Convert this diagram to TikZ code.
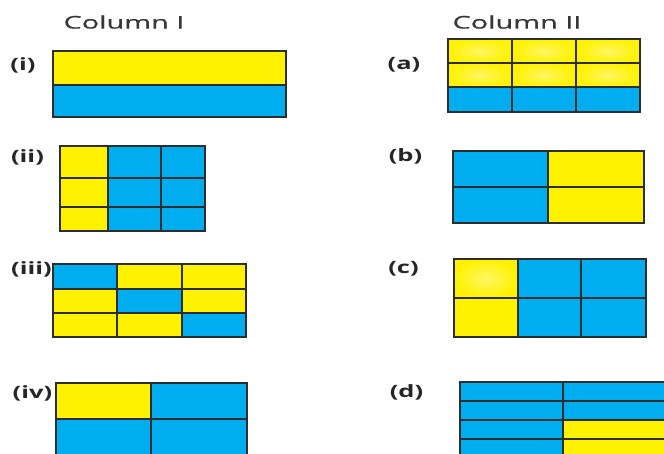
\documentclass[tikz,border=0pt]{standalone}
\usepackage{fontspec}
\newfontfamily\hdfont[FakeStretch=1.65,FakeBold=0.6]{Open Sans}
\newfontfamily\lbfont[FakeStretch=1.5]{Open Sans}
\definecolor{Yel}{RGB}{255,242,0}
\definecolor{YelLt}{RGB}{255,246,100}
\definecolor{Blu}{RGB}{0,174,239}
\definecolor{Edge}{RGB}{45,45,45}
\definecolor{HdGray}{RGB}{55,55,55}
\tikzset{
  yc/.style={fill=Yel},
  yg/.style={inner color=YelLt, outer color=Yel},
  bc/.style={fill=Blu},
  gridln/.style={draw=Edge, line width=2.2pt},
  header/.style={font=\hdfont\fontsize{17.5}{20}\selectfont, text=HdGray, inner sep=0pt},
  label/.style={font=\lbfont\bfseries\fontsize{17}{20}\selectfont, text=black!85, inner sep=0pt}
}
\begin{document}
\begin{tikzpicture}[x=1pt,y=-1pt]
\useasboundingbox (0,0) rectangle (664,454);
\clip (0,0) rectangle (664,454);
% headers
\node[header] (h1) at (124,22) {Column I};
\node[header] (h2) at (517,22) {Column II};
% labels
\node[label] (li) at (23,65) {(i)};
\node[label] (lii) at (27.5,157) {(ii)};
\node[label] (liii) at (31.5,269) {(iii)};
\node[label] (liv) at (32.5,393) {(iv)};
\node[label] (la) at (404,65) {(a)};
\node[label] (lb) at (405.5,156) {(b)};
\node[label] (lc) at (403.5,269) {(c)};
\node[label] (ld) at (406.5,392) {(d)};
% (i)
\fill[yc] (53,51) rectangle (286,85);
\fill[bc] (53,85) rectangle (286,117);
\draw[gridln] (53,51) rectangle (286,117) (53,85) -- (286,85);
% (ii)
\fill[yc] (60,146) rectangle (108,231);
\fill[bc] (108,146) rectangle (205,231);
\draw[gridln] (60,146) rectangle (205,231)
  (108,146) -- (108,231) (161,146) -- (161,231)
  (60,178) -- (205,178) (60,207) -- (205,207);
% (iii)
\fill[yc] (53,264) rectangle (246,337);
\fill[bc] (53,264) rectangle (117,289);
\fill[bc] (117,289) rectangle (182,313);
\fill[bc] (182,313) rectangle (246,337);
\draw[gridln] (53,264) rectangle (246,337)
  (117,264) -- (117,337) (182,264) -- (182,337)
  (53,289) -- (246,289) (53,313) -- (246,313);
% (iv)
\fill[bc] (56,383) rectangle (247,455);
\fill[yc] (56,383) rectangle (151,419);
\draw[gridln] (56,383) rectangle (247,455)
  (151,383) -- (151,455) (56,419) -- (247,419);
% (a)
\foreach \xa/\xb in {448/512,512/576,576/640}{
  \shade[yg] (\xa,39) rectangle (\xb,63);
  \shade[yg] (\xa,63) rectangle (\xb,87);
}
\fill[bc] (448,87) rectangle (640,112);
\draw[gridln] (448,39) rectangle (640,112)
  (512,39) -- (512,112) (576,39) -- (576,112)
  (448,63) -- (640,63) (448,87) -- (640,87);
% (b)
\fill[bc] (453,151) rectangle (548,223);
\fill[yc] (548,151) rectangle (644,223);
\draw[gridln] (453,151) rectangle (644,223)
  (548,151) -- (548,223) (453,187) -- (644,187);
% (c)
\fill[bc] (454,259) rectangle (646,337);
\fill[yc] (454,298) rectangle (518,337);
\shade[yg] (454,259) rectangle (518,298);
\draw[gridln] (454,259) rectangle (646,337)
  (518,259) -- (518,337) (581,259) -- (581,337)
  (454,298) -- (646,298);
% (d)
\fill[bc] (460,382) rectangle (666,458);
\fill[yc] (563,420) rectangle (666,458);
\draw[gridln] (460,382) rectangle (666,458)
  (563,382) -- (563,458)
  (460,401) -- (666,401) (460,420) -- (666,420) (460,439) -- (666,439);
\end{tikzpicture}
\end{document}
